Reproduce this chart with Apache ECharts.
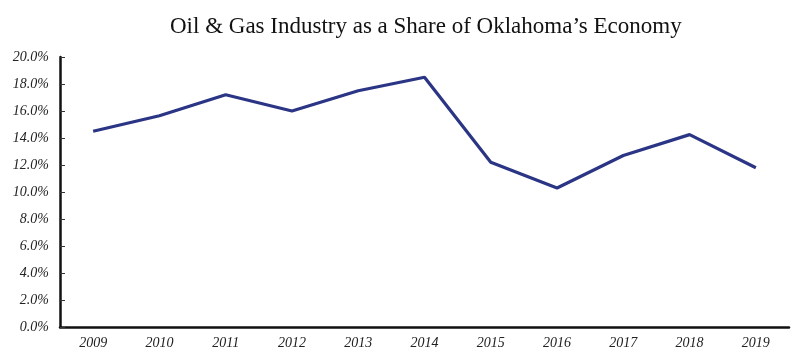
<!DOCTYPE html>
<html>
<head>
<meta charset="utf-8">
<script src="https://cdn.jsdelivr.net/npm/echarts@6/dist/echarts.min.js"></script>
<style>html,body{margin:0;padding:0;background:#fff}#c{width:800px;height:359px}</style>
</head>
<body>
<div id="c"></div>
<script>
const years = ['2009','2010','2011','2012','2013','2014','2015','2016','2017','2018','2019'];
const share = [14.5, 15.65, 17.2, 16.0, 17.5, 18.5, 12.2, 10.3, 12.7, 14.25, 11.8];
const yMin = 0, yMax = 20, yStep = 2;

const chart = echarts.init(document.getElementById('c'), null, {renderer: 'canvas'});
chart.setOption({
  animation: false,
  backgroundColor: '#ffffff',
  title: {
    text: 'Oil & Gas Industry as a Share of Oklahoma\u2019s Economy',
    left: 165, top: 10,
    textStyle: {fontFamily: 'Liberation Serif', fontWeight: 'normal', fontSize: 23, color: '#111'}
  },
  grid: {left: 60, right: 11, top: 57, bottom: 32},
  xAxis: {
    type: 'category', data: years, boundaryGap: true,
    axisLine: {lineStyle: {color: '#111', width: 2.5}},
    axisTick: {show: false},
    axisLabel: {fontFamily: 'Liberation Serif', fontStyle: 'italic', fontSize: 14, color: '#222', margin: 9}
  },
  yAxis: {
    type: 'value', min: yMin, max: yMax, interval: yStep,
    axisLine: {show: true, lineStyle: {color: '#111', width: 2.5}},
    axisTick: {show: true, inside: true, length: 5, lineStyle: {color: '#333', width: 1}},
    splitLine: {show: false},
    axisLabel: {fontFamily: 'Liberation Serif', fontStyle: 'italic', fontSize: 14, color: '#222', margin: 11,
      formatter: v => v.toFixed(1) + '%'}
  },
  series: [{
    type: 'line', data: share, symbol: 'none',
    lineStyle: {color: '#2B3585', width: 3.2}
  }]
});
</script>
</body>
</html>
